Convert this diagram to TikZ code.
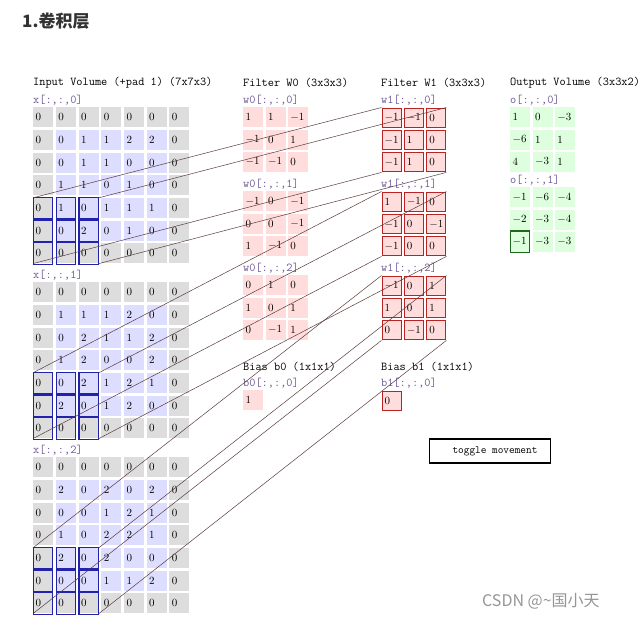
\documentclass[tikz,border=0pt]{standalone}
\usepackage{fontspec}
\newfontfamily\cjk{Noto Sans CJK SC}
\begin{document}
\begin{tikzpicture}[x=1pt,y=-1pt,
  cell/.style={anchor=north west,minimum width=20pt,minimum height=20pt,text width=15pt,inner xsep=2.5pt,inner ysep=0pt,align=left,font=\fontsize{11}{11}\selectfont},
  lbl/.style={anchor=west,inner sep=0pt,font=\ttfamily\fontsize{12}{12}\selectfont},
  sub/.style={lbl,text={rgb,255:red,110;green,90;blue,150}},
  conn/.style={draw={rgb,255:red,90;green,60;blue,60},line width=0.5pt}]
\definecolor{padc}{HTML}{DDDDDD}
\definecolor{inc}{HTML}{DDDDFF}
\definecolor{wc}{HTML}{FFDDDD}
\definecolor{oc}{HTML}{DDFFDD}
\definecolor{hblue}{HTML}{2222AA}
\definecolor{hred}{HTML}{BB2222}
\definecolor{hgreen}{HTML}{226622}
\useasboundingbox (0,0) rectangle (642,619);
\fill[white] (0,0) rectangle (642,619);
\node[anchor=west,inner sep=0pt,font=\cjk\bfseries\fontsize{17}{17}\selectfont,text={rgb,255:red,50;green,50;blue,50}] (title) at (22,21) {1.卷积层};
% headings
\node[lbl] (hin) at (33,83) {Input Volume (+pad 1) (7x7x3)};
\node[lbl] (hw0) at (243,83) {Filter W0 (3x3x3)};
\node[lbl] (hw1) at (381,83) {Filter W1 (3x3x3)};
\node[lbl] (hout) at (510,83) {Output Volume (3x3x2)};
% input volume
\foreach \k/\data in {0/{{0,0,0,0,0,0,0},{0,0,1,1,2,2,0},{0,0,1,1,0,0,0},{0,1,1,0,1,0,0},{0,1,0,1,1,1,0},{0,0,2,0,1,0,0},{0,0,0,0,0,0,0}},
                      1/{{0,0,0,0,0,0,0},{0,1,1,1,2,0,0},{0,0,2,1,1,2,0},{0,1,2,0,0,2,0},{0,0,2,1,2,1,0},{0,2,0,1,2,0,0},{0,0,0,0,0,0,0}},
                      2/{{0,0,0,0,0,0,0},{0,2,0,2,0,2,0},{0,0,0,1,2,1,0},{0,1,0,2,2,1,0},{0,2,0,2,0,0,0},{0,0,0,1,1,2,0},{0,0,0,0,0,0,0}}}{
  \pgfmathsetmacro\yb{107+175*\k}
  \node[sub] (xl\k) at (33,\yb-7) {x[:,:,\k]};
  \foreach \row [count=\r from 0] in \data {
    \foreach \v [count=\c from 0] in \row {
      \pgfmathtruncatemacro\pad{(\r==0||\r==6||\c==0||\c==6)?1:0}
      \pgfmathtruncatemacro\hl{(\r>3&&\c<3)?1:0}
      \ifnum\pad=1 \def\fc{padc}\else\def\fc{inc}\fi
      \node[cell,fill=\fc] (x\k-\r-\c) at (33+22.7*\c,\yb+22.7*\r) {$\v$};
      \ifnum\hl=1 \draw[hblue,line width=1.3pt] ([shift={(0.6,-0.6)}]x\k-\r-\c.north west) rectangle ([shift={(-0.6,0.6)}]x\k-\r-\c.south east);\fi
    }
  }
}
% filter labels
\foreach \f/\xx in {0/243,1/381}{
  \foreach \k in {0,1,2}{
    \pgfmathsetmacro\yb{107+84*\k}
    \node[sub] (wl\f-\k) at (\xx,\yb-7) {w\f[:,:,\k]};
  }
}
\foreach \k/\data in {0/{{1,1,-1},{-1,0,1},{-1,-1,0}},1/{{-1,0,-1},{0,0,-1},{1,-1,0}},2/{{0,1,0},{1,0,1},{0,-1,1}}}{
  \pgfmathsetmacro\yb{107+84*\k}
  \foreach \row [count=\r from 0] in \data {
    \foreach \v [count=\c from 0] in \row {
      \node[cell,fill=wc] (wa\k-\r-\c) at (243+22.3*\c,\yb+22.3*\r) {$\v$};
    }
  }
}
\foreach \k/\data in {0/{{-1,-1,0},{-1,1,0},{-1,1,0}},1/{{1,-1,0},{-1,0,-1},{-1,0,0}},2/{{-1,0,1},{1,0,1},{0,-1,0}}}{
  \pgfmathsetmacro\yb{107+84*\k}
  \foreach \row [count=\r from 0] in \data {
    \foreach \v [count=\c from 0] in \row {
      \node[cell,fill=wc,draw=hred,line width=1.3pt,minimum width=19pt,minimum height=19pt,text width=14pt] (wb\k-\r-\c) at (381.5+22.3*\c,\yb+0.5+22.3*\r) {$\v$};
    }
  }
}
% bias
\node[lbl] (hb0) at (243,367) {Bias b0 (1x1x1)};
\node[lbl] (hb1) at (381,367) {Bias b1 (1x1x1)};
\node[sub] (bl0) at (243,383) {b0[:,:,0]};
\node[sub] (bl1) at (381,383) {b1[:,:,0]};
\node[cell,fill=wc] (b0) at (243,390) {$1$};
\node[cell,fill=wc,draw=hred,line width=1.3pt,minimum width=19pt,minimum height=19pt,text width=14pt] (b1) at (381.5,390.5) {$0$};
% output
\foreach \k/\data in {0/{{1,0,-3},{-6,1,1},{4,-3,1}},1/{{-1,-6,-4},{-2,-3,-4},{-1,-3,-3}}}{
  \pgfmathsetmacro\yb{107+80*\k}
  \node[sub] (ol\k) at (510,\yb-7) {o[:,:,\k]};
  \foreach \row [count=\r from 0] in \data {
    \foreach \v [count=\c from 0] in \row {
      \node[cell,fill=oc] (o\k-\r-\c) at (510+22.3*\c,\yb+22.3*\r) {$\v$};
    }
  }
}
\draw[hgreen,line width=1.3pt] ([shift={(0.6,-0.6)}]o1-2-0.north west) rectangle ([shift={(-0.6,0.6)}]o1-2-0.south east);
% connectors
\foreach \k in {0,1,2}{
  \draw[conn] (x\k-4-0.north west) -- (wb\k-0-0.north west);
  \draw[conn] (x\k-4-2.north east) -- (wb\k-0-2.north east);
  \draw[conn] (x\k-6-0.south west) -- (wb\k-2-0.south west);
  \draw[conn] (x\k-6-2.south east) -- (wb\k-2-2.south east);
}
% button
\node[draw,line width=1.2pt,fill=white,minimum width=121pt,minimum height=24pt,inner sep=0pt,font=\ttfamily\fontsize{11}{11}\selectfont] (btn) at (490,451) {\hspace{10pt}toggle movement};
\node[anchor=west,inner sep=0pt,font=\cjk\fontsize{16}{16}\selectfont,text={rgb,255:red,150;green,150;blue,150}] (wm) at (482,601) {CSDN @\textasciitilde 国小天};
\end{tikzpicture}
\end{document}
